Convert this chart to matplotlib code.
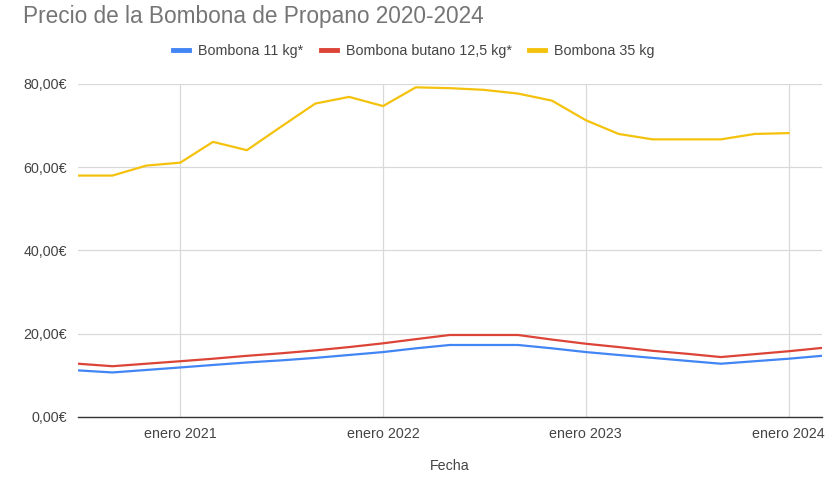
import matplotlib
matplotlib.use("Agg")
import matplotlib.pyplot as plt
import pandas as pd
from matplotlib.ticker import FuncFormatter

plt.rcParams['font.family'] = ['Liberation Sans', 'DejaVu Sans']

dates = ["2020-07-01", "2020-09-01", "2020-11-01", "2021-01-01", "2021-03-01", "2021-05-01",
         "2021-07-01", "2021-09-01", "2021-11-01", "2022-01-01", "2022-03-01", "2022-05-01",
         "2022-07-01", "2022-09-01", "2022-11-01", "2023-01-01", "2023-03-01", "2023-05-01",
         "2023-07-01", "2023-09-01", "2023-11-01", "2024-01-01", "2024-03-01"]
bombona_11 = [11.2, 10.7, 11.3, 11.9, 12.5, 13.1, 13.6, 14.2, 14.9, 15.6, 16.5, 17.3,
              17.3, 17.3, 16.5, 15.6, 14.9, 14.2, 13.5, 12.8, 13.4, 14.0, 14.7]
butano_12_5 = [12.8, 12.2, 12.8, 13.4, 14.0, 14.7, 15.3, 16.0, 16.8, 17.7, 18.7, 19.7,
               19.7, 19.7, 18.6, 17.6, 16.8, 15.9, 15.2, 14.4, 15.1, 15.8, 16.6]
bombona_35 = [58.0, 58.0, 60.4, 61.1, 66.1, 64.1, 69.7, 75.3, 76.9, 74.7, 79.2, 79.0,
              78.6, 77.7, 76.0, 71.3, 68.0, 66.7, 66.7, 66.7, 68.0, 68.2, None]
series_names = ["Bombona 11 kg*", "Bombona butano 12,5 kg*", "Bombona 35 kg"]
colors = ["#4285F4", "#DB4437", "#F4C20D"]
title = "Precio de la Bombona de Propano 2020-2024"
xlabel = "Fecha"
yticks = [0, 20, 40, 60, 80]
xtick_dates = ["2021-01-01", "2022-01-01", "2023-01-01", "2024-01-01"]

x = pd.to_datetime(dates)
fig = plt.figure(figsize=(8.4, 4.8), dpi=100)
ax = fig.add_axes([78/840, 1-417/480, (822-78)/840, (417-84)/480])

for vals, name, c in zip([bombona_11, butano_12_5, bombona_35], series_names, colors):
    s = pd.Series(vals, index=x, dtype=float).dropna()
    ax.plot(s.index, s.values, color=c, lw=1.6, label=name, solid_joinstyle='round')

ax.set_xlim(x[0], x[-1])
ax.set_ylim(0, 80)
ax.set_yticks(yticks)
ax.yaxis.set_major_formatter(FuncFormatter(lambda v, p: f"{v:.2f}".replace(".", ",") + "€"))
xt = pd.to_datetime(xtick_dates)
ax.set_xticks(xt)
ax.set_xticklabels([f"enero {d.year}" for d in xt])
ax.grid(True, color="#d9d9d9", lw=0.9)
ax.set_axisbelow(True)
for s in ["top", "right", "left"]:
    ax.spines[s].set_visible(False)
ax.spines["bottom"].set_color("#333333")
ax.spines["bottom"].set_linewidth(1.0)
ax.tick_params(length=0, labelsize=10.3, colors="#444444", pad=7)
ax.tick_params(axis="y", pad=8)
ax.set_xlabel(xlabel, fontsize=10.3, color="#444444", labelpad=13)

fig.text(23/840, 1-16/480, title, fontsize=16.3, color="#757575", va="center", ha="left")
leg = fig.legend(loc="center", bbox_to_anchor=(414/840, 1-51/480), ncol=3, frameon=False,
                 fontsize=10.3, handlelength=1.1, handletextpad=0.65, columnspacing=1.2)
for h in leg.get_lines():
    h.set_linewidth(3.5)
for t in leg.get_texts():
    t.set_color("#444444")

fig.savefig("out.png", dpi=100, facecolor="white")
